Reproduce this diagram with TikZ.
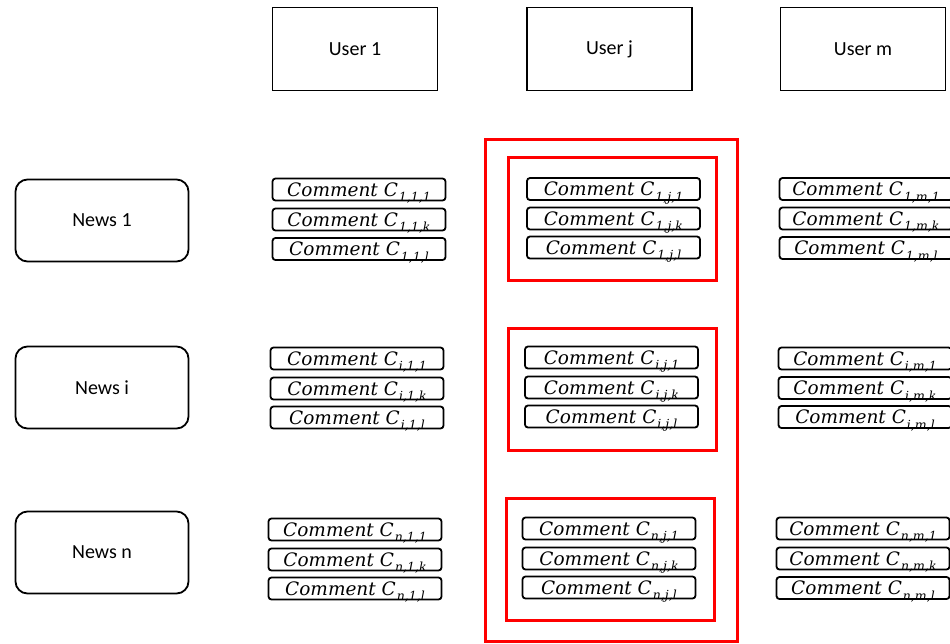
\documentclass[tikz,border=0pt]{standalone}
\usepackage{fontspec}
\setmainfont{Carlito}
\newfontfamily\cmtfont{DejaVu Serif}
\newcommand{\cm}[1]{{\cmtfont\itshape Comment C\kern1pt\smash{\raisebox{-5.5pt}{\fontsize{12.5}{12.5}\selectfont #1}}}}
\begin{document}
\begin{tikzpicture}[x=1pt,y=-1pt,
  userbox/.style={draw,line width=1.8pt,minimum width=165pt,minimum height=83pt,inner sep=0pt,font=\fontsize{20}{20}\selectfont},
  newsbox/.style={draw,line width=1.8pt,rounded corners=12pt,minimum width=173pt,minimum height=82pt,inner sep=0pt,font=\fontsize{20}{20}\selectfont},
  cbox/.style={draw,line width=1.8pt,rounded corners=3pt,minimum width=173pt,minimum height=22pt,inner sep=0pt,font=\fontsize{18.5}{18.5}\selectfont},
  redframe/.style={draw=red,line width=3pt,inner sep=0pt}]
\useasboundingbox (0,0) rectangle (950,643);
% red frames
\node[redframe,minimum width=252pt,minimum height=502pt] (outer) at (611.5,390.5) {};
\node[redframe,minimum width=208pt,minimum height=123pt] (g1) at (612,218.5) {};
\node[redframe,minimum width=208pt,minimum height=122pt] (gi) at (612,389) {};
\node[redframe,minimum width=208pt,minimum height=122pt] (gn) at (610,559) {};
% users
\node[userbox] (u1) at (355,49) {User 1};
\node[userbox] (uj) at (609.5,49) {User j};
\node[userbox] (um) at (863,49) {User m};
% news
\node[newsbox] (n1) at (102,220.5) {News 1};
\node[newsbox] (ni) at (102,387.5) {News i};
\node[newsbox] (nn) at (102,552.5) {News n};
% column 1
\node[cbox] (c111) at (359,189.5) {\cm{1,1,1}};
\node[cbox] (c11k) at (359,219.5) {\cm{1,1,k}};
\node[cbox] (c11l) at (359,249) {\cm{1,1,l}};
\node[cbox] (ci11) at (357,358.5) {\cm{i,1,1}};
\node[cbox] (ci1k) at (357,388.5) {\cm{i,1,k}};
\node[cbox] (ci1l) at (357,417.5) {\cm{i,1,l}};
\node[cbox] (cn11) at (355,529.5) {\cm{n,1,1}};
\node[cbox] (cn1k) at (355,559.5) {\cm{n,1,k}};
\node[cbox] (cn1l) at (355,588.5) {\cm{n,1,l}};
% column j
\node[cbox] (c1j1) at (613.5,189) {\cm{1,j,1}};
\node[cbox] (c1jk) at (613.5,218.5) {\cm{1,j,k}};
\node[cbox] (c1jl) at (613.5,247.5) {\cm{1,j,l}};
\node[cbox] (cij1) at (611.5,357.5) {\cm{i,j,1}};
\node[cbox] (cijk) at (611.5,387.5) {\cm{i,j,k}};
\node[cbox] (cijl) at (611.5,416.5) {\cm{i,j,l}};
\node[cbox] (cnj1) at (609,528.5) {\cm{n,j,1}};
\node[cbox] (cnjk) at (609,558.5) {\cm{n,j,k}};
\node[cbox] (cnjl) at (609,587.5) {\cm{n,j,l}};
% column m
\node[cbox] (c1m1) at (866,189) {\cm{1,m,1}};
\node[cbox] (c1mk) at (866,218.5) {\cm{1,m,k}};
\node[cbox] (c1ml) at (866,248) {\cm{1,m,l}};
\node[cbox] (cim1) at (865,358.5) {\cm{i,m,1}};
\node[cbox] (cimk) at (865,388) {\cm{i,m,k}};
\node[cbox] (ciml) at (865,417) {\cm{i,m,l}};
\node[cbox] (cnm1) at (863,528.5) {\cm{n,m,1}};
\node[cbox] (cnmk) at (863,558.5) {\cm{n,m,k}};
\node[cbox] (cnml) at (863,588) {\cm{n,m,l}};
\end{tikzpicture}
\end{document}
